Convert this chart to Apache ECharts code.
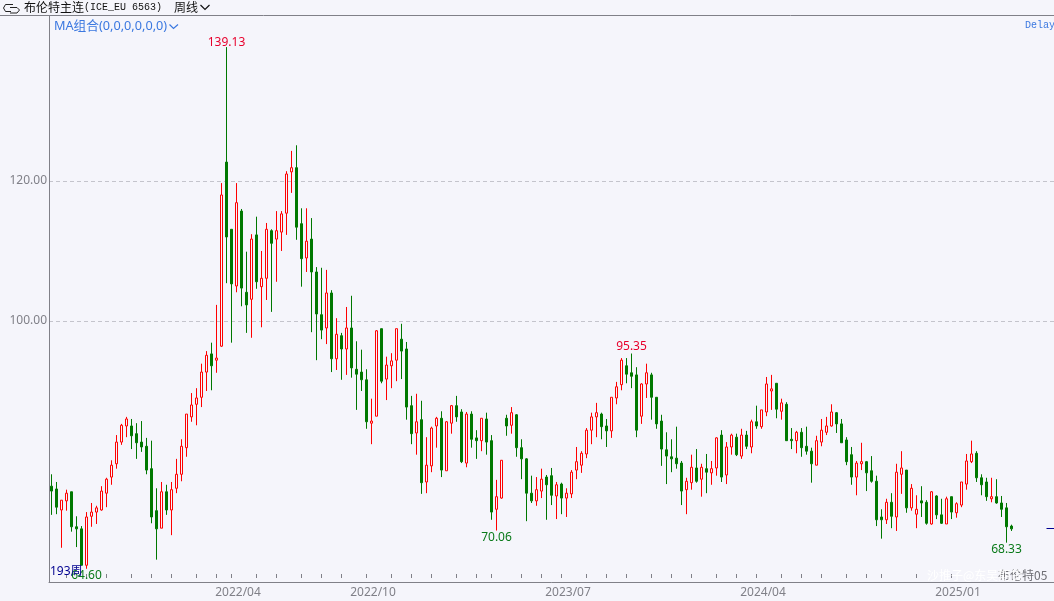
<!DOCTYPE html>
<html>
<head>
<meta charset="utf-8">
<title>布伦特主连 周线</title>
<style>
  html, body { margin: 0; padding: 0; background: #f5f5fb; overflow: hidden; }
  #chart { width: 1054px; height: 601px; }
</style>
<script src="https://cdn.jsdelivr.net/npm/echarts@6/dist/echarts.min.js"></script>
</head>
<body>
<div id="chart"></div>
<script>
// 周线 K 线
const opens = [
  76.4,76.0,73.0,74.3,75.6,70.6,70.3,65.1,72.1,72.7,
  73.0,75.4,77.7,79.6,82.7,85.0,85.0,83.9,82.7,82.1,
  78.9,72.9,70.4,75.6,73.0,76.1,78.1,81.9,86.3,88.1,
  89.1,92.7,95.3,94.4,96.4,122.7,113.1,105.0,115.7,104.1,
  103.1,112.3,104.9,106.1,112.9,111.7,112.7,115.4,121.3,121.9,
  113.9,109.0,111.7,107.0,100.9,99.0,104.0,94.6,97.9,96.0,
  99.0,93.1,92.7,91.6,85.4,86.4,98.9,91.7,93.6,94.4,
  97.4,96.0,87.9,84.0,85.9,77.0,79.3,85.0,86.1,78.6,
  85.4,87.9,87.0,79.7,86.7,83.3,82.9,86.0,82.9,73.1,
  74.7,86.1,85.1,86.6,81.9,80.3,75.4,74.3,75.7,77.7,
  77.9,75.0,76.7,74.7,75.3,78.7,79.4,81.0,84.4,86.3,
  86.7,85.0,84.3,89.0,90.9,93.6,92.6,92.3,86.4,91.0,
  92.3,89.1,85.7,81.6,80.6,80.4,79.7,75.9,76.9,79.0,
  77.4,78.9,78.3,79.0,83.7,78.0,82.0,83.4,80.7,83.7,
  82.0,85.6,84.9,87.0,90.0,91.1,87.1,88.1,83.1,82.9,
  84.1,82.1,81.4,79.4,82.7,84.1,85.0,86.9,85.3,83.0,
  80.9,77.7,79.6,79.9,78.6,77.1,72.0,71.6,74.1,72.0,
  78.1,78.7,73.3,72.4,74.3,74.1,71.0,75.0,72.3,71.0,
  74.9,72.6,73.7,76.7,79.9,81.1,77.6,77.0,74.6,74.9,
  74.0,73.3,70.7
];
const closes = [
  75.7,73.4,74.4,75.4,70.6,70.3,65.1,72.0,72.7,73.3,
  75.7,77.4,79.4,82.7,85.1,86.0,83.6,82.6,82.0,78.7,
  72.0,70.3,75.6,73.0,75.9,78.1,82.1,86.7,88.0,89.0,
  92.7,95.1,93.6,94.7,118.0,112.0,105.3,116.9,104.7,102.3,
  111.7,105.6,106.1,113.1,111.1,112.9,115.3,121.0,121.9,113.4,
  108.9,111.4,107.0,101.0,98.7,104.0,94.6,98.1,96.0,99.0,
  93.3,92.4,91.6,85.6,85.7,98.6,91.4,93.7,94.3,98.9,
  95.7,87.7,83.9,85.6,76.9,79.4,84.7,86.1,78.7,85.6,
  87.9,86.3,79.9,86.7,83.1,82.9,86.1,82.7,72.7,74.9,
  80.1,85.0,86.9,81.9,80.3,75.4,74.3,75.9,77.4,76.6,
  75.1,76.6,74.7,75.4,78.4,79.9,81.1,84.4,86.3,86.9,
  84.9,84.3,89.1,90.6,94.4,92.4,92.1,84.4,91.0,92.6,
  89.1,85.3,81.7,80.7,80.3,79.6,75.7,77.1,79.1,77.1,
  79.1,78.4,78.9,83.3,77.7,82.0,83.7,80.9,83.7,82.1,
  85.6,85.0,87.3,91.0,90.3,87.4,88.3,82.9,82.9,84.1,
  81.9,81.4,79.6,82.9,84.4,85.0,87.0,85.3,82.6,79.9,
  77.7,79.7,79.9,78.3,77.1,71.6,71.6,74.1,72.1,78.4,
  79.0,73.3,76.1,73.1,74.0,71.1,75.6,72.3,71.1,74.6,
  72.7,73.9,77.0,80.0,81.0,77.6,76.6,74.9,74.9,74.0,
  73.1,70.6,70.3
];
const lows = [
  72.3,72.4,67.6,72.9,69.9,67.7,65.1,64.6,70.6,71.0,
  72.9,73.4,76.6,78.9,82.3,83.4,81.7,80.3,81.3,78.1,
  71.1,65.9,70.4,72.3,69.4,75.4,77.1,80.6,85.6,85.1,
  87.7,90.0,90.1,92.6,96.3,105.4,96.9,104.1,102.1,98.3,
  97.6,104.6,99.1,103.0,101.3,105.6,110.0,112.3,118.3,111.6,
  104.9,107.0,98.4,94.4,97.4,96.7,92.7,93.0,91.6,92.3,
  91.9,87.3,90.0,84.6,82.4,86.4,91.1,88.7,90.4,91.4,
  91.7,85.9,82.4,80.9,75.3,75.4,78.4,81.9,77.7,78.6,
  83.9,85.6,79.7,79.1,81.9,80.3,81.4,80.9,71.6,70.06,
  74.6,83.6,83.9,80.6,77.4,71.4,74.0,73.6,74.7,71.6,
  73.7,71.7,72.4,72.0,74.7,77.4,78.3,80.4,82.4,83.4,
  83.1,82.0,83.3,88.1,90.1,91.1,90.4,83.4,85.3,89.0,
  85.9,84.6,79.3,76.7,78.4,78.9,73.7,72.4,75.9,76.9,
  74.9,75.4,76.6,77.9,77.0,76.7,80.9,80.7,80.3,81.7,
  81.1,84.6,84.6,86.4,87.3,86.1,85.9,82.9,81.7,81.1,
  80.6,80.9,76.9,79.4,82.1,83.7,84.9,84.0,82.6,79.4,
  76.6,75.1,78.7,75.7,76.9,70.7,68.9,71.0,70.4,70.0,
  75.3,72.6,72.9,70.4,72.0,70.9,70.9,71.7,71.0,71.0,
  71.7,71.9,73.4,75.9,79.7,77.0,75.1,74.3,74.1,73.9,
  72.0,68.33,70.0
];
const highs = [
  78.1,77.0,74.4,75.9,75.6,72.1,70.7,72.7,74.0,73.6,
  76.4,77.6,80.1,83.7,85.3,86.3,86.0,85.4,85.7,83.3,
  82.9,76.1,77.0,76.6,77.0,80.3,83.1,86.7,89.7,90.4,
  93.9,95.7,96.9,102.3,119.7,139.13,113.1,119.7,116.0,109.9,
  112.4,114.9,110.0,114.0,113.1,115.7,115.7,121.4,124.3,125.1,
  116.1,116.1,114.7,107.7,107.6,107.3,104.4,100.4,98.3,102.0,
  103.6,97.1,95.9,93.1,88.9,98.7,98.9,94.9,95.4,98.9,
  99.6,97.0,89.3,89.6,88.6,83.4,84.9,86.3,87.1,85.7,
  88.0,89.3,87.4,87.0,87.1,84.4,86.1,86.9,83.7,77.3,
  80.1,86.6,87.7,86.7,83.1,80.4,77.9,77.7,78.9,78.0,
  79.0,77.0,76.9,76.1,78.7,82.0,81.4,84.7,86.9,88.3,
  86.9,86.0,89.1,91.3,94.7,94.7,95.35,93.4,91.1,93.9,
  92.6,89.1,86.6,84.1,83.1,84.9,80.0,77.6,80.9,81.7,
  79.6,81.0,80.0,83.4,84.4,82.7,83.9,83.9,84.6,84.3,
  85.9,87.9,87.3,92.0,92.3,91.1,88.9,88.4,84.7,84.3,
  84.7,84.9,81.9,83.6,86.0,86.3,88.1,87.0,86.0,83.4,
  82.0,80.0,82.6,80.0,80.7,77.9,73.1,74.6,75.4,79.6,
  81.4,78.7,76.7,75.1,76.4,74.4,75.7,75.1,74.6,74.9,
  74.9,74.1,77.0,81.0,82.9,81.4,78.1,77.6,77.6,77.4,
  75.0,74.0,70.9
];
const lastPrice = 70.4;

// 高低点标注
const markIndex = [35, 116, 89, 191, 7];
const markValue = [139.13, 95.35, 70.06, 68.33, 64.60];
const markSide = ['top', 'top', 'bottom', 'bottom', 'bottom'];

// 月度刻度和底部日期
const tickIndex = [3,7,11,16,20,24,29,33,36,41,45,50,54,58,63,68,72,76,81,85,88,94,98,102,107,111,115,
  120,124,128,133,137,141,146,150,154,159,163,166,173,180];
const labelIndex = [36, 63, 102, 141, 180];
const tickLabels = ['2022/04', '2022/10', '2023/07', '2024/04', '2025/01'];
const priceTicks = [100, 120];

// 右边留 9 根空位
const categories = [];
for (let i = 0; i < 202; i++) categories.push('w' + i);

const BG = '#f5f5fb';
const RED = '#ff0000';
const GREEN = '#007800';
const GRAY = '#808088';
const BLUE = '#3b78e0';
const NUM_FONT = '"Noto Sans", sans-serif';
const CJK_FONT = '"Noto Sans CJK SC", sans-serif';

const chart = echarts.init(document.getElementById('chart'), null, { renderer: 'canvas' });

chart.setOption({
  animation: false,
  backgroundColor: BG,
  grid: { left: 49, top: 16, width: 1010, height: 566, outerBoundsMode: 'none' },
  xAxis: [
    {
      type: 'category',
      data: categories,
      axisLine: { lineStyle: { color: GRAY, width: 1 } },
      axisTick: { show: false },
      splitLine: { show: false },
      axisLabel: {
        interval: (i) => labelIndex.includes(i),
        formatter: (v) => tickLabels[labelIndex.indexOf(categories.indexOf(v))],
        color: GRAY,
        fontFamily: NUM_FONT,
        fontSize: 12,
        margin: 5,
        padding: [0, 0, 0, 13]
      }
    },
    {
      // 刻度离开轴线 4px
      type: 'category',
      data: categories,
      position: 'bottom',
      offset: -4,
      axisLine: { show: false },
      axisLabel: { show: false },
      axisTick: {
        show: true,
        inside: true,
        length: 4,
        alignWithLabel: true,
        interval: (i) => tickIndex.includes(i),
        lineStyle: { color: GRAY, width: 1 }
      }
    }
  ],
  yAxis: {
    type: 'value',
    min: 62.71,
    max: 143.57,
    axisLine: { show: true, lineStyle: { color: GRAY, width: 1 } },
    axisTick: { show: false, customValues: priceTicks },
    axisLabel: {
      customValues: priceTicks,
      formatter: (v) => v.toFixed(2),
      color: GRAY,
      fontFamily: NUM_FONT,
      fontSize: 12,
      margin: 2,
      padding: [2, 0, 0, 0]
    },
    splitLine: { show: true, lineStyle: { color: '#c4c4cc', type: [4, 3], width: 1 } }
  },
  series: [
    {
      type: 'candlestick',
      xAxisIndex: 0,
      barWidth: 2,
      data: opens.map((o, i) => [o, closes[i], lows[i], highs[i]]),
      itemStyle: {
        color: BG,
        color0: GREEN,
        borderColor: RED,
        borderColor0: GREEN,
        borderWidth: 1
      },
      markPoint: {
        symbol: 'circle',
        symbolSize: 0,
        silent: true,
        data: markIndex.map((idx, i) => ({
          coord: [categories[idx], markValue[i]],
          value: markValue[i].toFixed(2),
          label: {
            show: true,
            position: markSide[i],
            distance: 1,
            offset: [0, idx === 35 ? 2 : 0],
            color: markSide[i] === 'top' ? '#e8002c' : '#0a7a1a',
            fontFamily: NUM_FONT,
            fontSize: 12
          }
        }))
      },
      markLine: {
        symbol: 'none',
        silent: true,
        label: { show: false },
        lineStyle: { color: '#000090', type: 'solid', width: 1 },
        data: [[
          { coord: [categories[199], lastPrice] },
          { coord: [categories[201], lastPrice] }
        ]]
      }
    }
  ],
  graphic: [
    // 顶部分隔线
    { type: 'line', silent: true, shape: { x1: 0, y1: 15.5, x2: 1054, y2: 15.5 }, style: { stroke: GRAY, lineWidth: 1 } },
    // 链接图标
    { type: 'polyline', silent: true, shape: { points: [[13, 4.5], [5.5, 4.5], [3.5, 8], [5.5, 11.5], [11, 11.5]] }, style: { stroke: '#222', fill: 'none', lineWidth: 1 } },
    { type: 'polyline', silent: true, shape: { points: [[10, 7.5], [17, 7.5], [19.5, 10], [17, 13], [10, 13]] }, style: { stroke: '#222', fill: 'none', lineWidth: 1 } },
    { type: 'text', silent: true, style: { x: 24, y: 7, text: '布伦特主连', fontFamily: CJK_FONT, fontSize: 12, fill: '#111', verticalAlign: 'middle' } },
    { type: 'text', silent: true, style: { x: 84, y: 7, text: '(ICE_EU 6563)', fontFamily: '"Liberation Mono", monospace', fontSize: 10, fill: '#111', verticalAlign: 'middle' } },
    { type: 'text', silent: true, style: { x: 174, y: 7, text: '周线', fontFamily: CJK_FONT, fontSize: 12, fill: '#111', verticalAlign: 'middle' } },
    { type: 'polyline', silent: true, shape: { points: [[200.5, 5], [205, 9.5], [209.5, 5]] }, style: { stroke: '#111', fill: 'none', lineWidth: 1.2 } },
    { type: 'text', silent: true, style: { x: 54, y: 26, text: 'MA组合(0,0,0,0,0,0)', fontFamily: '"Noto Sans", "Noto Sans CJK SC", sans-serif', fontSize: 12.7, fill: BLUE, verticalAlign: 'middle' } },
    { type: 'polyline', silent: true, shape: { points: [[169.5, 24.5], [173.5, 28.5], [178, 24.5]] }, style: { stroke: BLUE, fill: 'none', lineWidth: 1.2 } },
    { type: 'text', silent: true, style: { x: 1025, y: 25, text: 'Delay', fontFamily: '"Liberation Mono", monospace', fontSize: 10, fill: BLUE, verticalAlign: 'middle' } },
    { type: 'text', silent: true, z: 50, style: { x: 50, y: 572, text: opens.length + '周', fontFamily: '"Noto Sans", "Noto Sans CJK SC", sans-serif', fontSize: 12, fill: '#000090', verticalAlign: 'middle' } },
    // 水印
    { type: 'text', silent: true, z: 50, style: { x: 998, y: 575, text: '布伦特05', fontFamily: '"Noto Sans CJK SC", sans-serif', fontSize: 12, fill: '#6e6e74', verticalAlign: 'middle' } },
    { type: 'text', silent: true, z: 51, style: { x: 927, y: 575, text: '沙推子@东吴期货', fontFamily: '"Noto Sans CJK SC", sans-serif', fontSize: 12, fill: '#ffffff', verticalAlign: 'middle' } }
  ]
});
</script>
</body>
</html>
